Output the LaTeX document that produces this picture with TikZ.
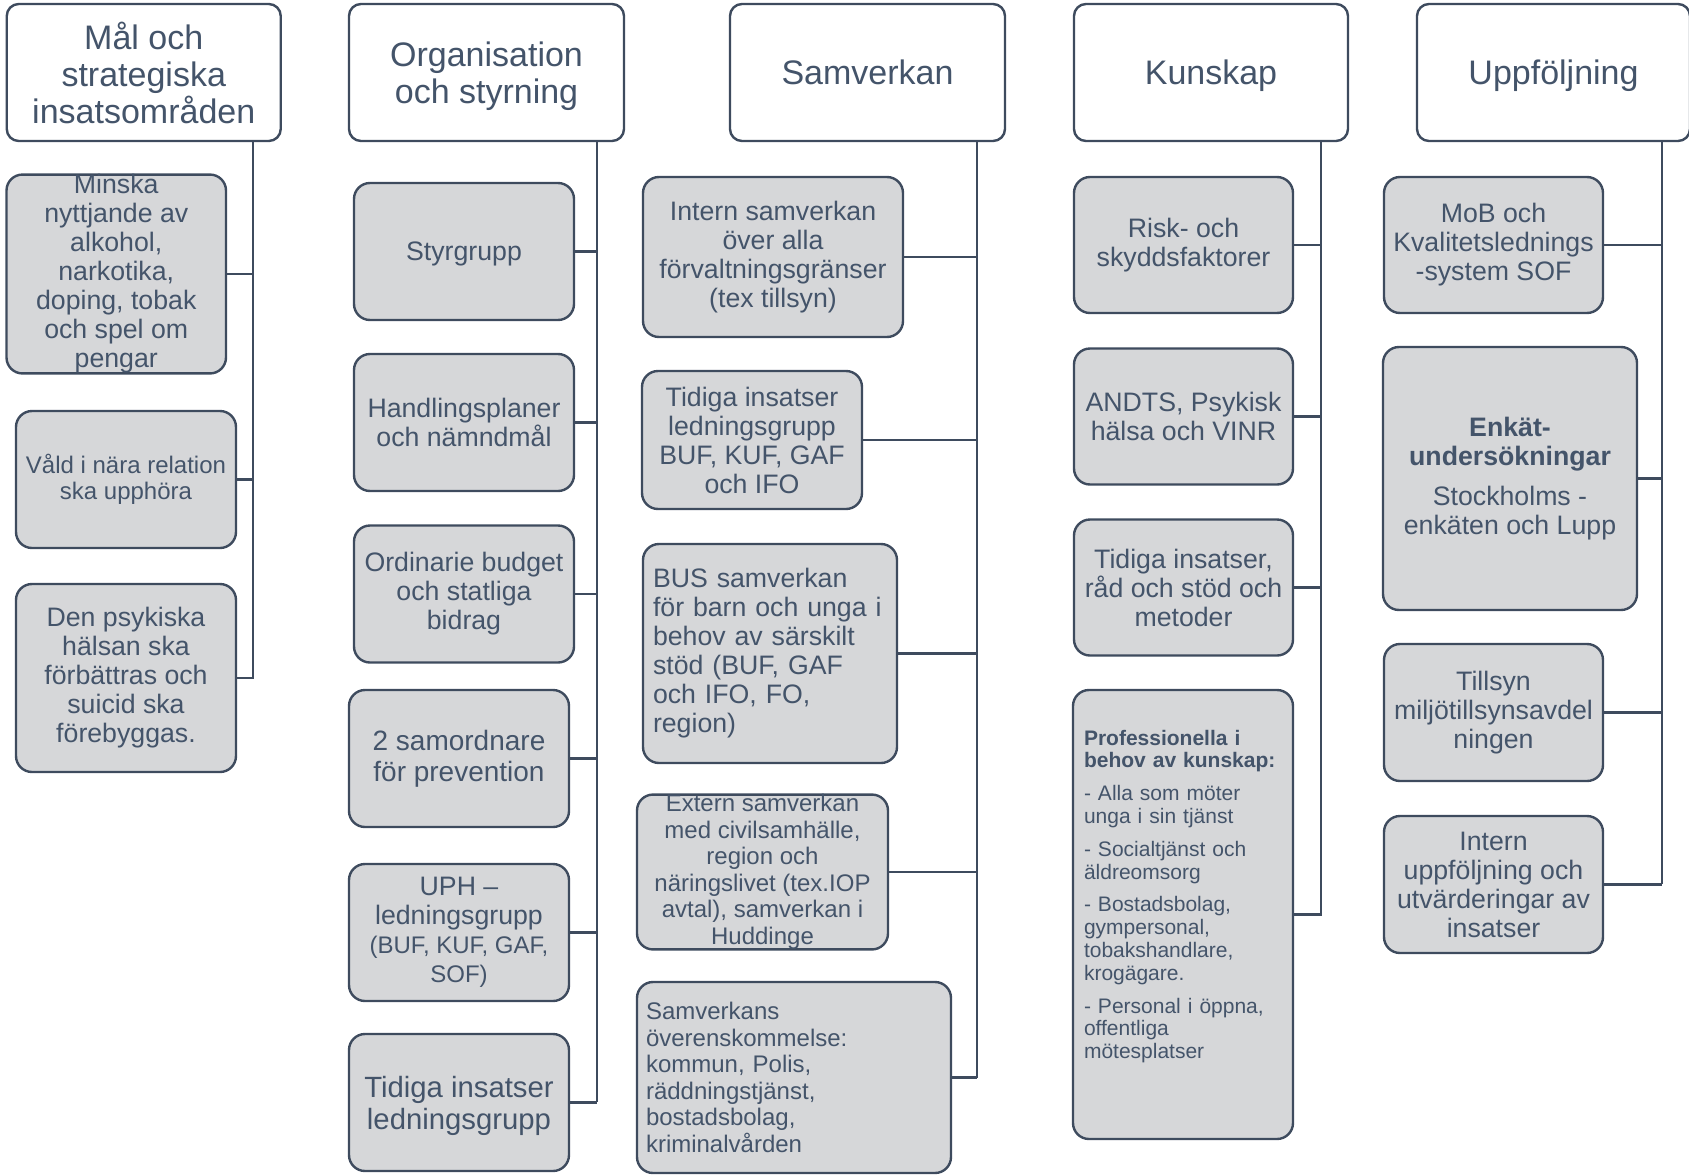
\documentclass[tikz,border=0pt]{standalone}
\usepackage{fontspec}
\setmainfont{Liberation Sans}
\usetikzlibrary{shapes,positioning}
\definecolor{txt}{HTML}{44546A}
\definecolor{edge}{HTML}{3E4B5E}
\definecolor{boxgray}{HTML}{D6D7D9}
\tikzstyle{head} = [draw=edge, fill=white, rounded corners=12pt, line width=2.4pt, text=txt, font=\fontsize{34}{37}\selectfont, align=center, inner sep=0pt, minimum width=274pt, minimum height=137pt]
\tikzstyle{item} = [draw=edge, fill=boxgray, rounded corners=16pt, line width=2.4pt, text=txt, font=\fontsize{26.7}{29}\selectfont, align=center, inner sep=0pt, minimum width=220pt, minimum height=137pt]
\tikzstyle{smallitem} = [item, font=\fontsize{24}{26.5}\selectfont]
\tikzstyle{link} = [edge, line width=2.4pt]

\begin{document}
\begin{tikzpicture}[x=1pt, y=-1pt]
	\useasboundingbox (0,0) rectangle (1689,1175);
	% headers
	\node[head] (mal) at (143.75,72.5) {Mål och\\strategiska\\insatsområden};
	\node[head, minimum width=275pt] (org) at (486.5,72.5) {Organisation\\\raisebox{0pt}[\height][0pt]{och styrning}};
	\node[head, minimum width=275pt] (samv) at (867.5,72.5) {Samverkan};
	\node[head, text depth=0pt] (kunsk) at (1211,72.5) {Kunskap};
	\node[head, minimum width=273pt, text depth=0pt] (uppf) at (1553.5,72.5) {Uppföljning};
	
	\coordinate (sp1) at (253,679);
	\coordinate (sp2) at (597,1102);
	\coordinate (sp3) at (977,1078);
	\coordinate (sp4) at (1321,916);
	\coordinate (sp5) at (1662,884);
	
	% Mål och strategiska insatsområden
	\node[item, minimum width=219.5pt, minimum height=194pt] (m1) at (116.25,274) {Minska\\nyttjande av\\alkohol,\\narkotika,\\doping, tobak\\och spel om\\pengar};
	\node[smallitem] (m2) at (126,479.5) {Våld i nära relation\\ska upphöra};
	\node[item, minimum height=188pt] (m3) at (126,678) {Den psykiska\\hälsan ska\\förbättras och\\suicid ska\\förebyggas.};
	
	% Organisation och styrning
	\node[item, text depth=0pt] (o1) at (464,251.5) {Styrgrupp};
	\node[item] (o2) at (464,422.5) {Handlingsplaner\\och nämndmål};
	\node[item] (o3) at (464,594) {Ordinarie budget\\och statliga\\bidrag};
	\node[item, font=\fontsize{28}{31}\selectfont] (o4) at (459,758.5) {2 samordnare\\för prevention};
	\node[item] (o5) at (459,932.5) {UPH –\\ledningsgrupp\\{\fontsize{24}{26}\selectfont(BUF, KUF, GAF,}\\{\fontsize{24}{26}\selectfont SOF)}};
	\node[item, font=\fontsize{29.3}{32}\selectfont] (o6) at (459,1102.5) {Tidiga insatser\\\raisebox{0pt}[\height][0pt]{ledningsgrupp}};
	
	% Samverkan
	\node[item, minimum width=260pt, minimum height=160pt] (v1) at (773,257) {Intern samverkan\\över alla\\förvaltningsgränser\\(tex tillsyn)};
	\node[item, minimum height=138pt] (v2) at (752,440) {Tidiga insatser\\ledningsgrupp\\BUF, KUF, GAF\\och IFO};
	\node[item, align=left, text width=234pt, inner xsep=10pt, minimum width=254pt, minimum height=219pt] (v3) at (770,653.5) {BUS samverkan\\för barn och unga i\\behov av särskilt\\stöd (BUF, GAF\\och IFO, FO,\\region)};
	\node[smallitem, minimum width=251pt, minimum height=150pt] (v4) at (762.5,872) {Extern samverkan\\med civilsamhälle,\\region och\\näringslivet (tex.IOP\\avtal), samverkan i\\Huddinge};
	\node[smallitem, align=left, text width=296pt, inner xsep=9pt, minimum width=314pt, minimum height=191pt] (v5) at (794,1077.5) {Samverkans\\överenskommelse:\\kommun, Polis,\\räddningstjänst,\\bostadsbolag,\\kriminalvården};
	
	% Kunskap
	\node[item, minimum width=219pt, minimum height=136pt] (k1) at (1183.5,245) {Risk- och\\skyddsfaktorer};
	\node[item, minimum width=219pt, minimum height=136pt] (k2) at (1183.5,416.5) {ANDTS, Psykisk\\hälsa och VINR};
	\node[item, minimum width=219pt, minimum height=136pt] (k3) at (1183.5,587.5) {Tidiga insatser,\\råd och stöd och\\metoder};
	\node[item, align=left, text width=198pt, inner xsep=11pt, minimum height=449pt, font=\fontsize{21}{22.8}\selectfont] (k4) at (1183,914.5) {\textbf{Professionella i}\\\textbf{behov av kunskap:}\\[10pt]- Alla som möter\\unga i sin tjänst\\[10pt]- Socialtjänst och\\äldreomsorg\\[10pt]- Bostadsbolag,\\gympersonal,\\tobakshandlare,\\krogägare.\\[10pt]- Personal i öppna,\\offentliga\\mötesplatser\par\vspace*{36pt}};
	
	% Uppföljning
	\node[item, minimum width=219pt, minimum height=136pt] (u1) at (1493.5,245) {MoB och\\Kvalitetslednings\\-system SOF};
	\node[item, minimum width=254pt, minimum height=263pt] (u2) at (1510,478.5) {\textbf{Enkät-}\\\textbf{undersökningar}\\[11pt]Stockholms -\\enkäten och Lupp};
	\node[item, minimum width=219pt] (u3) at (1493.5,712.5) {Tillsyn\\miljötillsynsavdel\\ningen};
	\node[item, minimum width=219pt] (u4) at (1493.5,884.5) {Intern\\uppföljning och\\utvärderingar av\\insatser};
	
	% spines
	\draw[link] (mal.south -| sp1) -- (sp1);
	\draw[link] (org.south -| sp2) -- (sp2);
	\draw[link] (samv.south -| sp3) -- (sp3);
	\draw[link] (kunsk.south -| sp4) -- (sp4);
	\draw[link] (uppf.south -| sp5) -- (sp5);
	\foreach \b in {m1,m2,m3} \draw[link] (\b.east) -- (\b.east -| sp1);
	\foreach \b in {o1,o2,o3,o4,o5,o6} \draw[link] (\b.east) -- (\b.east -| sp2);
	\foreach \b in {v1,v2,v3,v4,v5} \draw[link] (\b.east) -- (\b.east -| sp3);
	\foreach \b in {k1,k2,k3,k4} \draw[link] (\b.east) -- (\b.east -| sp4);
	\foreach \b in {u1,u2,u3,u4} \draw[link] (\b.east) -- (\b.east -| sp5);
\end{tikzpicture}
\end{document}
